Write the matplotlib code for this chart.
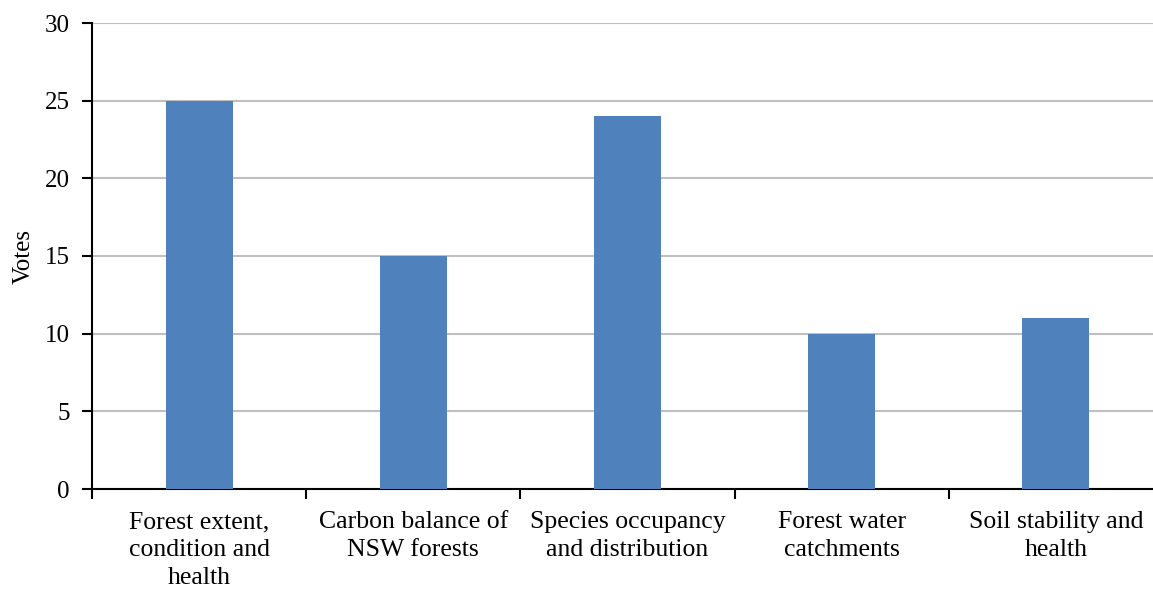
import numpy as np
import matplotlib.pyplot as plt
from matplotlib.ticker import FixedLocator

plt.rcParams['font.family'] = ['Liberation Serif', 'DejaVu Serif']

categories = [
    'Forest extent,\ncondition and\nhealth',
    'Carbon balance of\nNSW forests',
    'Species occupancy\nand distribution',
    'Forest water\ncatchments',
    'Soil stability and\nhealth',
]
votes = [25, 15, 24, 10, 11]
y_ticks = [0, 5, 10, 15, 20, 25, 30]

fig = plt.figure(figsize=(11.53, 5.90), dpi=100)
ax = fig.add_axes([92 / 1153, 101 / 590, 1071 / 1153, 466 / 590])

x = np.arange(len(categories))
ax.bar(x, votes, width=0.313, color='#4F81BD', zorder=3)

ax.set_xlim(-0.5, len(categories) - 0.5)
ax.set_ylim(0, 30)
ax.set_yticks(y_ticks)
ax.yaxis.grid(True, color='#BFBFBF', linewidth=1.5, zorder=0)

ax.set_xticks(x)
ax.set_xticklabels(categories, fontsize=18.5, linespacing=1.36)
ax.xaxis.set_minor_locator(FixedLocator(np.arange(-0.5, len(categories), 1.0)))
ax.tick_params(axis='x', which='major', length=0, pad=16)
ax.tick_params(axis='x', which='minor', length=7, width=1.5, direction='out')
ax.tick_params(axis='y', length=7, width=1.5, direction='out', labelsize=18, pad=9)

for side in ['top', 'right']:
    ax.spines[side].set_visible(False)
for side in ['left', 'bottom']:
    ax.spines[side].set_linewidth(1.5)

ax.set_ylabel('Votes', fontsize=18, labelpad=7)

fig.savefig('out.png', dpi=100)
